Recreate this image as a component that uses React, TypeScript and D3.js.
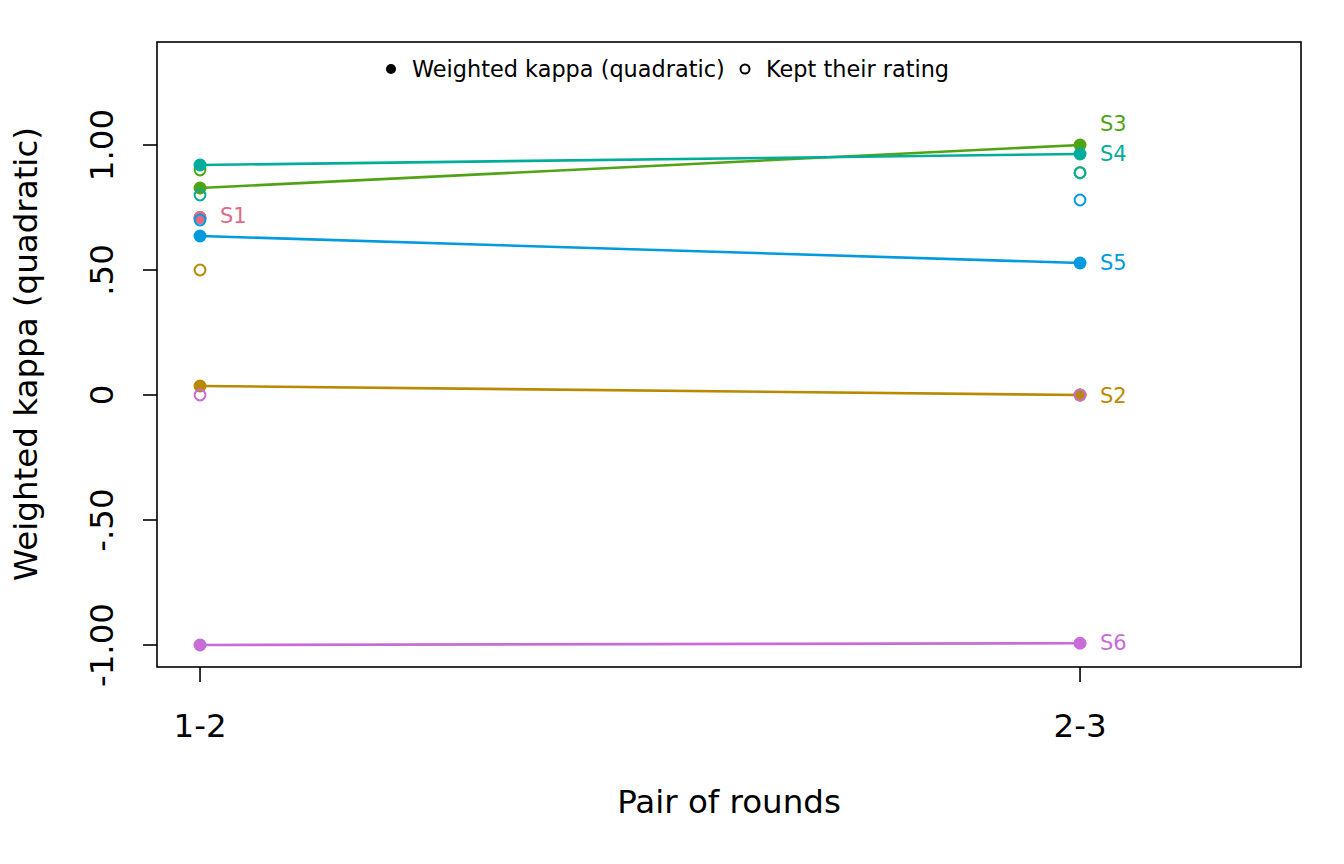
import React from 'react';
import * as d3 from 'd3';

// pairs of rounds on the x axis
const pairs = ['1-2', '2-3'];
const subjects = ['S1', 'S2', 'S3', 'S4', 'S5', 'S6'];
const colors = ['#E16A86', '#B88A00', '#50A315', '#00AD9A', '#009ADE', '#C86DD7'];

// weighted kappa (quadratic) per subject, per pair of rounds (null = missing)
const kappaS1 = [0.71, null];
const kappaS2 = [0.036, 0.0];
const kappaS3 = [0.828, 1.0];
const kappaS4 = [0.92, 0.964];
const kappaS5 = [0.636, 0.528];
const kappaS6 = [-1.0, -0.993];

// proportion that kept their rating
const keptS1 = [0.71, null];
const keptS2 = [0.5, 0.0];
const keptS3 = [0.9, 0.889];
const keptS4 = [0.8, 0.889];
const keptS5 = [0.7, 0.78];
const keptS6 = [0.0, 0.0];

// label heights (data units), S3 nudged up to avoid S4
const labelY = [0.72, 0.0, 1.085, 0.965, 0.53, -0.99];

const yTicks = [-1, -0.5, 0, 0.5, 1];
const yTickLabels = ['-1.00', '-.50', '0', '.50', '1.00'];

const kappa = [kappaS1, kappaS2, kappaS3, kappaS4, kappaS5, kappaS6];
const kept = [keptS1, keptS2, keptS3, keptS4, keptS5, keptS6];

const W = 1344;
const H = 864;
const box = { left: 157, right: 1301, top: 42, bottom: 667 };
const font = '"DejaVu Sans", sans-serif';
const axisSize = 32.5;
const smallSize = 22.4;

export default function App() {
  const x = d3.scaleLinear().domain([0.9511, 2.2511]).range([box.left, box.right]);
  const y = d3.scaleLinear().domain([-1.088, 1.412]).range([box.bottom, box.top]);

  const line = d3
    .line<number | null>()
    .defined((d) => d !== null)
    .x((_, i) => x(i + 1))
    .y((d) => y(d as number));

  return (
    <div style={{ position: 'fixed', left: 0, top: 0 }}>
      <svg width={W} height={H} style={{ display: 'block', background: '#fff' }} fontFamily={font}>
        {/* series */}
        {subjects.map((s, si) => {
          const c = colors[si];
          const vals = kappa[si];
          const k = kept[si];
          const lastIdx = vals[1] === null ? 0 : 1;
          return (
            <g key={s}>
              <path d={line(vals) || ''} fill="none" stroke={c} strokeWidth={2.6} />
              {vals.map((v, i) =>
                v === null ? null : (
                  <circle key={'f' + i} cx={x(i + 1)} cy={y(v)} r={6.5} fill={c} />
                )
              )}
              {k.map((v, i) =>
                v === null ? null : (
                  <circle key={'o' + i} cx={x(i + 1)} cy={y(v)} r={5.4} fill="none" stroke={c} strokeWidth={2} />
                )
              )}
              <text x={x(lastIdx + 1) + 20} y={y(labelY[si])} dy="0.36em" fontSize={21} fill={c}>
                {s}
              </text>
            </g>
          );
        })}

        {/* frame */}
        <rect
          x={box.left}
          y={box.top}
          width={box.right - box.left}
          height={box.bottom - box.top}
          fill="none"
          stroke="#000"
          strokeWidth={1.6}
        />

        {/* y axis */}
        {yTicks.map((t, i) => (
          <g key={t}>
            <line x1={box.left - 14} x2={box.left} y1={y(t)} y2={y(t)} stroke="#000" strokeWidth={1.6} />
            <text
              transform={`translate(${113},${y(t)}) rotate(-90)`}
              textAnchor="middle"
              fontSize={axisSize}
              fill="#000"
            >
              {yTickLabels[i]}
            </text>
          </g>
        ))}
        <text
          transform={`translate(${37},${354}) rotate(-90)`}
          textAnchor="middle"
          fontSize={axisSize}
          fill="#000"
        >
          Weighted kappa (quadratic)
        </text>

        {/* x axis */}
        {pairs.map((p, i) => (
          <g key={p}>
            <line x1={x(i + 1)} x2={x(i + 1)} y1={box.bottom} y2={box.bottom + 15} stroke="#000" strokeWidth={1.6} />
            <text x={x(i + 1)} y={737} textAnchor="middle" fontSize={axisSize} fill="#000">
              {p}
            </text>
          </g>
        ))}
        <text x={(box.left + box.right) / 2} y={813} textAnchor="middle" fontSize={axisSize} fill="#000">
          Pair of rounds
        </text>

        {/* legend */}
        <g fontSize={smallSize} fill="#000">
          <circle cx={391} cy={69} r={5} fill="#000" />
          <text x={412} y={69} dy="0.36em">Weighted kappa (quadratic)</text>
          <circle cx={745} cy={69} r={4.5} fill="none" stroke="#000" strokeWidth={2} />
          <text x={766} y={69} dy="0.36em">Kept their rating</text>
        </g>
      </svg>
    </div>
  );
}
